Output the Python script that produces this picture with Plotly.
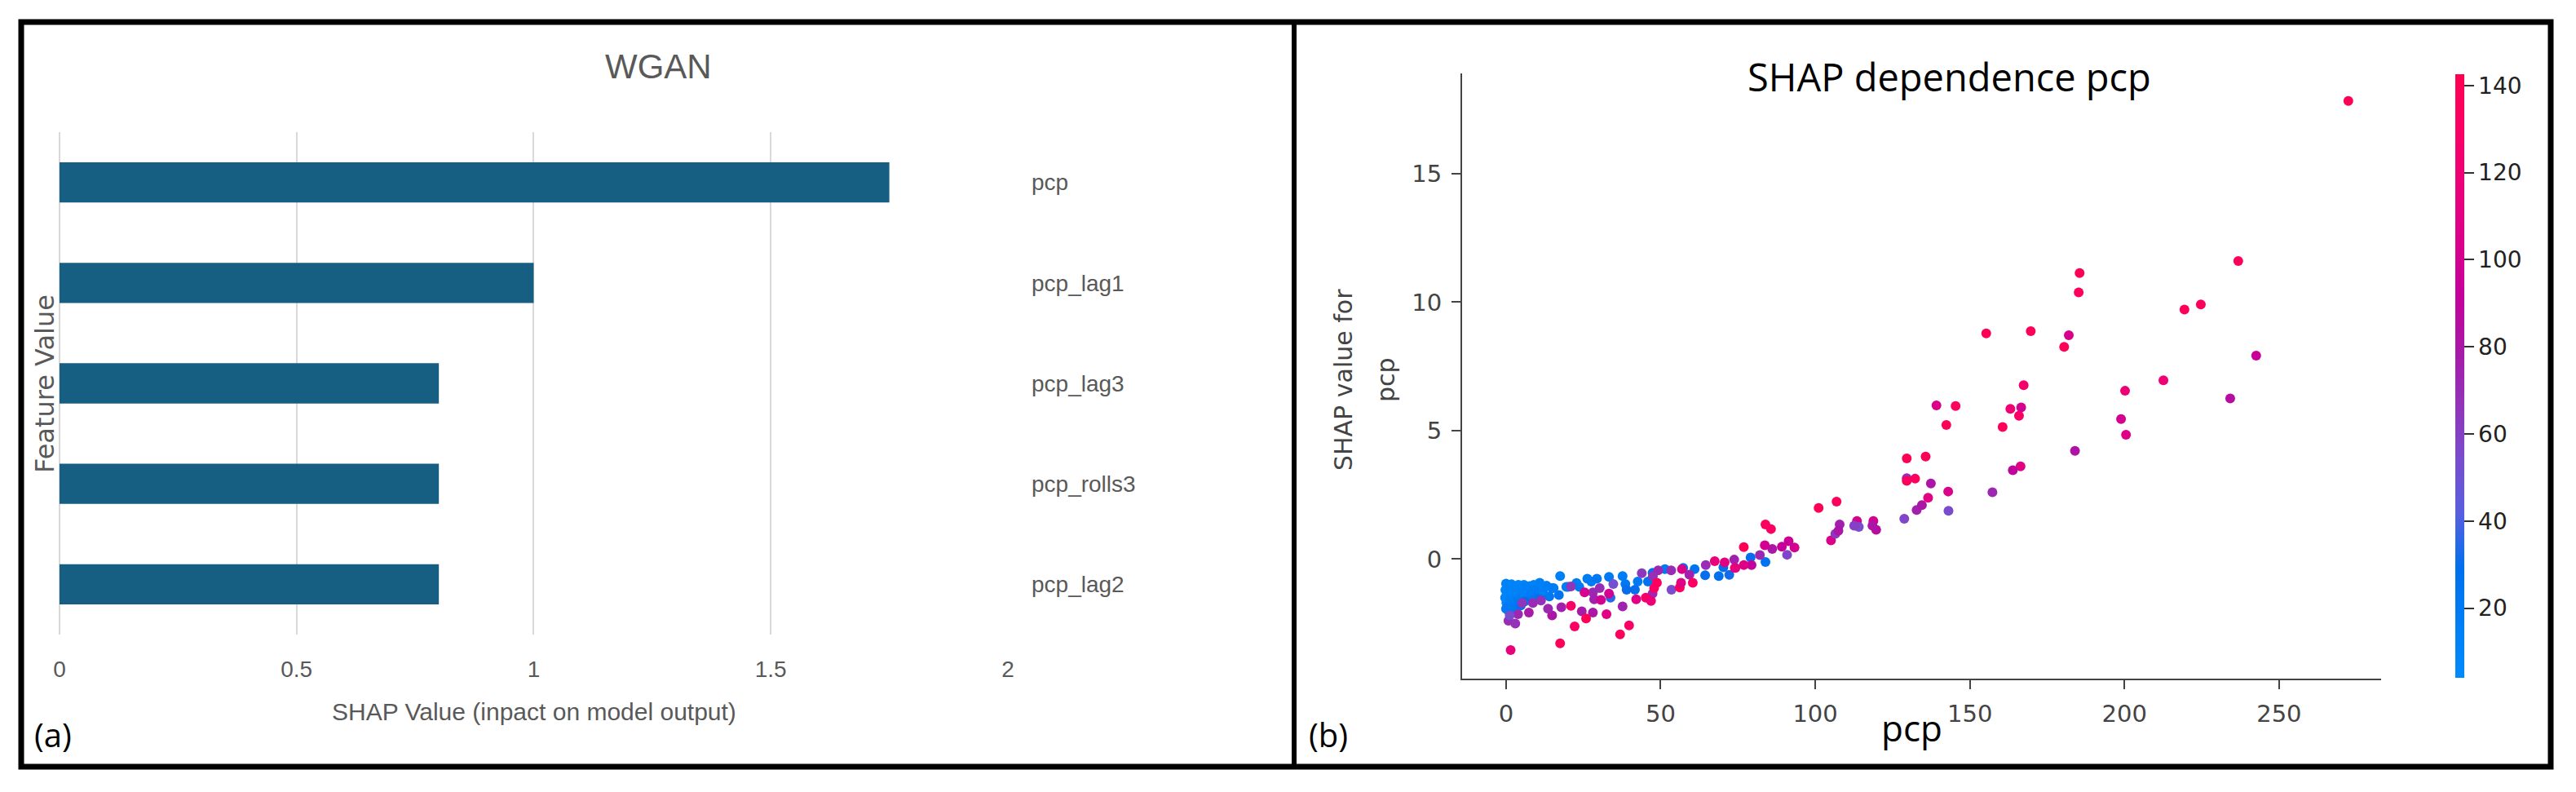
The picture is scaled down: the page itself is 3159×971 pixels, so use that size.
import numpy as np
import plotly.graph_objects as go

W, H = 3159, 971

# ---- panel (a): mean |SHAP| bars
features = ['pcp', 'pcp_lag1', 'pcp_lag3', 'pcp_rolls3', 'pcp_lag2']
importance = [1.75, 1.0, 0.8, 0.8, 0.8]
imp_ticks = [0, 0.5, 1, 1.5, 2]
imp_ticktext = ['0', '0.5', '1', '1.5', '2']

# ---- panel (b): dependence scatter (pcp, shap value, colour feature)
pcp = [
    0.0, 0.3, 0.5, 0.2, 0.6, 0.1, 0.4, -0.2, -0.3, 0.8, 1.0, 1.2, 1.5, 1.1, 1.4,
    1.8, 2.0, 2.2, 2.5, 2.8, 3.0, 3.2, 3.5, 3.8, 4.0, 4.3, 4.6, 5.0, 5.4, 5.8,
    6.3, 6.7, 7.2, 7.6, 8.2, 8.8, 9.5, 9.0, 0.7, 2.3, 4.8, 6.0, 10.2, 11.0,
    79.1, 83.9, 70.3, 64.4, 68.8, 72.2, 61.0, 51.4, 47.4, 42.6, 41.7, 38.6, 37.7,
    33.3, 27.6, 29.4, 26.3, 33.8, 20.1, 17.5, 23.7, 22.8, 17.1, 14.9, 13.1, 10.9,
    14.0, 11.8, 7.8, 6.1, 2.6, 0.0, 19.5, 12.0, 57.3, 45.9, 39.0, 15.4,
    86.1, 73.8, 74.2, 64.6, 59.3, 53.4, 49.2, 43.9, 47.5, 47.4, 37.7, 30.3, 28.1,
    28.5, 24.5, 28.1, 21.0, 17.9, 14.9, 13.6, 11.3, 7.4, 3.9, 8.7, 5.2, 0.8, 3.0,
    1.2, 82.1, 79.4, 53.5, 34.7,
    1.5, 17.5, 22.2, 25.9, 36.9, 39.8, 21.0, 32.5, 45.2, 46.9, 47.9, 48.8, 42.1,
    56.2, 60.4, 56.6, 56.9, 76.9, 83.9, 85.7, 83.7, 67.5, 70.7, 76.9, 74.0, 30.7,
    25.4, 33.3,
    91.4, 89.2, 93.3, 90.9, 105.1, 106.5, 107.9, 107.5, 113.5, 114.1, 112.6,
    118.8, 119.7, 118.5, 101.1, 106.9, 128.8, 132.8, 143.1, 134.5, 136.5, 143.0,
    157.3, 137.4, 129.6, 129.6, 132.3, 166.4, 163.9, 129.6, 135.7, 184.0, 200.5,
    198.9, 160.6, 142.4, 165.9, 166.6, 163.1, 145.4, 139.2, 234.2, 200.2, 212.6,
    242.6, 167.4, 180.5, 182.0, 169.7, 155.3, 224.7, 219.4, 185.2, 185.5, 236.8,
    272.4,
]
shap_pcp = [
    -0.95, -1.10, -1.25, -1.40, -1.55, -1.70, -1.85, -1.20, -1.50, -1.00, -1.30,
    -1.15, -1.45, -1.65, -1.80, -0.98, -1.25, -1.55, -1.35, -1.70, -1.10, -1.45,
    -1.25, -1.60, -1.00, -1.35, -1.15, -1.50, -1.25, -1.00, -1.40, -1.15, -1.30,
    -1.05, -1.50, -1.20, -1.35, -1.00, -2.00, -1.90, -1.80, -1.65, -1.15, -1.55,
    0.06, -0.11, -0.32, -0.63, -0.66, -0.61, -0.39, -0.39, -0.53, -0.87, -1.19,
    -0.97, -0.66, -0.69, -0.87, -0.76, -0.76, -1.50, -1.08, -0.66, -1.08, -0.93,
    -1.40, -1.13, -1.03, -0.92, -1.45, -1.34, -1.24, -1.08, -1.08, -1.93, -1.08,
    -1.24, -0.34, -0.87, -1.19, -1.13,
    0.40, -0.02, -0.34, -0.23, -0.60, -0.44, -0.44, -0.55, -0.66, -1.34, -1.84,
    -1.13, -1.29, -1.56, -2.03, -2.08, -1.06, -1.87, -2.19, -1.93, -1.61, -2.08,
    -2.14, -1.71, -1.71, -2.40, -2.51, -2.19, 0.16, -0.23, -1.19, -0.97,
    -3.54, -3.28, -2.62, -2.31, -2.93, -2.58, -1.82, -2.14, -1.50, -1.63, -1.13,
    -0.92, -1.56, -1.10, -0.92, -0.92, -0.39, 0.47, 1.35, 1.17, 0.54, -0.08,
    -0.13, -0.23, -0.34, -1.59, -1.29, -1.34,
    0.70, 0.48, 0.45, 0.17, 0.73, 0.98, 1.35, 1.10, 1.48, 1.25, 1.30, 1.48, 1.14,
    1.30, 1.99, 2.24, 1.57, 1.91, 1.88, 2.10, 2.39, 2.63, 2.60, 2.94, 3.15, 3.05,
    3.13, 3.61, 3.46, 3.92, 3.99, 4.21, 4.84, 5.45, 5.14, 5.22, 5.58, 5.90, 5.85,
    5.96, 5.98, 6.25, 6.55, 6.96, 7.92, 6.77, 8.26, 8.71, 8.87, 8.78, 9.91, 9.71,
    10.38, 11.13, 11.60, 17.83,
]
color_val = [
    12, 10, 15, 12, 10, 14, 16, 10, 11, 13, 12, 14, 12, 16, 18, 12, 10, 15, 13,
    17, 11, 14, 12, 20, 10, 13, 12, 18, 14, 11, 16, 13, 15, 12, 20, 16, 22, 14,
    25, 22, 28, 30, 18, 30,
    30, 25, 28, 30, 28, 32, 25, 22, 28, 20, 30, 22, 18, 20, 20, 22, 18, 35, 22,
    15, 20, 18, 25, 20, 18, 15, 22, 25, 18, 15, 12, 20, 18, 15, 25, 25, 30, 18,
    80, 75, 70, 70, 75, 70, 72, 65, 68, 72, 75, 70, 72, 75, 78, 80, 65, 75, 80,
    72, 68, 78, 72, 70, 65, 70, 68, 55, 72, 90, 55, 52,
    115, 138, 132, 140, 135, 130, 128, 110, 128, 118, 130, 135, 108, 135, 132,
    110, 105, 140, 135, 132, 100, 115, 110, 108, 115, 100, 100, 100,
    95, 92, 100, 58, 105, 65, 75, 80, 100, 55, 60, 100, 85, 80, 138, 135, 58,
    75, 55, 80, 110, 105, 72, 80, 70, 135, 135, 110, 90, 138, 138, 82, 108, 100,
    138, 138, 132, 100, 122, 135, 105, 85, 118, 120, 95, 125, 138, 105, 138, 140,
    135, 137, 136, 138, 135, 140,
]
x_ticks = [0, 50, 100, 150, 200, 250]
y_ticks = [0, 5, 10, 15]
cbar_ticks = [20, 40, 60, 80, 100, 120, 140]


def px(x):
    return x / W


def py(y):
    return 1 - y / H


# shap red_blue colormap (interpolated in LCH space)
def lch_to_rgb(l, c, h):
    a, b = c * np.cos(h), c * np.sin(h)
    fy = (l + 16) / 116
    fx, fz = fy + a / 500, fy - b / 200

    def finv(t):
        return t ** 3 if t > 6 / 29 else 3 * (6 / 29) ** 2 * (t - 4 / 29)

    X, Y, Z = 0.95047 * finv(fx), finv(fy), 1.08883 * finv(fz)
    lin = [3.2406 * X - 1.5372 * Y - 0.4986 * Z,
           -0.9689 * X + 1.8758 * Y + 0.0415 * Z,
           0.0557 * X - 0.2040 * Y + 1.0570 * Z]
    out = []
    for v in lin:
        v = 12.92 * v if v <= 0.0031308 else 1.055 * max(v, 0) ** (1 / 2.4) - 0.055
        out.append(int(round(min(max(v, 0), 1) * 255)))
    return 'rgb(%d,%d,%d)' % tuple(out)


n = 100
l_vals = list(np.linspace(54, 40, n // 2)) + list(np.linspace(40, 54, n // 2))
c_vals = np.linspace(70, 90, n)
h_vals = np.linspace(4.6588, 0.35470565 + 2 * np.pi, n)
red_blue = [[i / (n - 1), lch_to_rgb(l_vals[i], c_vals[i], h_vals[i])]
            for i in range(0, n, 9)] + [[1.0, lch_to_rgb(54, 90, h_vals[-1])]]

fig = go.Figure()

fig.add_trace(go.Bar(
    x=importance, y=features, orientation='h', width=0.4,
    marker=dict(color='#175F82', line_width=0),
    xaxis='x', yaxis='y', showlegend=False,
))

fig.add_trace(go.Scatter(
    x=pcp, y=shap_pcp, mode='markers', xaxis='x2', yaxis='y2', showlegend=False,
    marker=dict(
        size=12, color=color_val, colorscale=red_blue, cmin=4, cmax=142.6,
        line_width=0,
        colorbar=dict(
            x=px(3011), xanchor='left', xpad=0, ypad=0,
            y=py(461), yanchor='middle', len=740, lenmode='pixels',
            thickness=11, outlinewidth=0,
            tickvals=cbar_ticks, ticks='outside', ticklen=12, tickwidth=2,
            tickcolor='#333333',
            tickfont=dict(family='DejaVu Sans', size=28, color='#222222'),
        ),
    ),
))

left_font = 'Liberation Sans'
fig.update_layout(
    width=W, height=H, margin=dict(l=0, r=0, t=0, b=0, autoexpand=False),
    paper_bgcolor='white', plot_bgcolor='white',
    xaxis=dict(
        # tiny negative start so the 0 gridline is drawn inside the plot
        domain=[px(66), px(1236)], range=[-0.012, 2], tickvals=imp_ticks,
        ticktext=imp_ticktext, showgrid=True, gridcolor='#D9D9D9', gridwidth=2,
        zeroline=False, showline=False, ticks='', ticklabelstandoff=23,
        automargin=False,
        tickfont=dict(family=left_font, size=28, color='#595959'),
    ),
    yaxis=dict(
        domain=[py(778), py(162)], type='category',
        categoryorder='array', categoryarray=features[::-1],
        range=[-0.5, 4.5], side='right', showgrid=False, zeroline=False,
        showline=False, ticks='', ticklabelstandoff=28, automargin=False,
        tickfont=dict(family=left_font, size=28, color='#595959'),
    ),
    xaxis2=dict(
        domain=[px(1793), px(2920)], anchor='y2', range=[-14.2, 283],
        tickvals=x_ticks, showgrid=False, zeroline=False, automargin=False,
        showline=True, linecolor='#444444', linewidth=2,
        ticks='outside', ticklen=11, tickwidth=2, tickcolor='#444444',
        ticklabelstandoff=5,
        tickfont=dict(family='DejaVu Sans', size=29, color='#444444'),
    ),
    yaxis2=dict(
        domain=[py(832), py(90)], anchor='x2', range=[-4.65, 18.9],
        tickvals=y_ticks, showgrid=False, zeroline=False, automargin=False,
        showline=True, linecolor='#444444', linewidth=2,
        ticks='outside', ticklen=11, tickwidth=2, tickcolor='#444444',
        ticklabelstandoff=6,
        tickfont=dict(family='DejaVu Sans', size=29, color='#444444'),
    ),
)

annotations = [
    dict(text='WGAN', x=px(807), y=py(81),
         font=dict(family=left_font, size=42, color='#595959')),
    dict(text='SHAP Value (inpact on model output)', x=px(655), y=py(872),
         font=dict(family=left_font, size=30, color='#595959')),
    dict(text='Feature Value', x=px(55), y=py(470), textangle=-90,
         font=dict(family='DejaVu Sans', size=32, color='#595959')),
    dict(text='(a)', x=px(40), y=py(900), xanchor='left',
         font=dict(family='Open Sans', size=40, color='black')),
    dict(text='SHAP dependence pcp', x=px(2390), y=py(94),
         font=dict(family='Open Sans', size=47, color='black')),
    dict(text='pcp', x=px(2344), y=py(892),
         font=dict(family='Open Sans', size=44, color='black')),
    dict(text='SHAP value for', x=px(1648), y=py(466), textangle=-90,
         font=dict(family='DejaVu Sans', size=30, color='#444444')),
    dict(text='pcp', x=px(1700), y=py(466), textangle=-90,
         font=dict(family='DejaVu Sans', size=30, color='#444444')),
    dict(text='(b)', x=px(1603), y=py(900), xanchor='left',
         font=dict(family='Open Sans', size=40, color='black')),
]
for a in annotations:
    a.setdefault('xanchor', 'center')
    fig.add_annotation(xref='paper', yref='paper', showarrow=False,
                       yanchor='middle', **a)

# outer frame and divider
fig.add_shape(type='rect', xref='paper', yref='paper',
              x0=px(26), x1=px(3128), y0=py(940), y1=py(27),
              line=dict(color='black', width=7))
fig.add_shape(type='line', xref='paper', yref='paper',
              x0=px(1587), x1=px(1587), y0=py(940), y1=py(27),
              line=dict(color='black', width=6))

# drop the default 8px body margin so the figure sits at the page origin
fig.write_html("out.html", config={'displayModeBar': False},
               post_script="document.body.style.margin='0';")
